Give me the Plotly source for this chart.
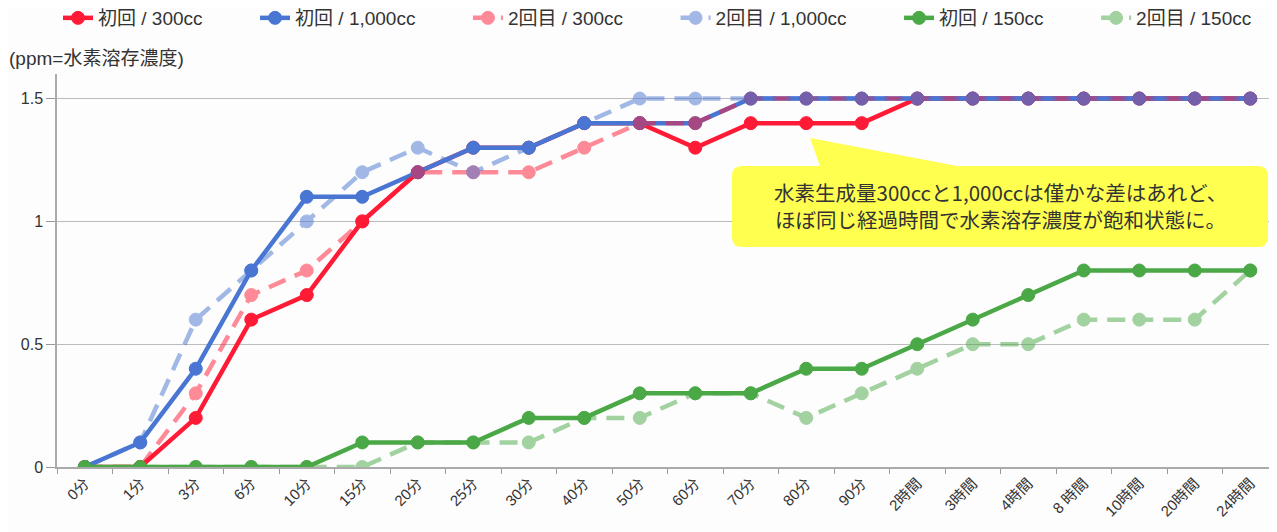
import plotly.graph_objects as go

categories = ["0分", "1分", "3分", "6分", "10分", "15分", "20分", "25分", "30分", "40分", "50分",
              "60分", "70分", "80分", "90分", "2時間", "3時間", "4時間", "8 時間", "10時間", "20時間", "24時間"]

first_300 = [0, 0, 0.2, 0.6, 0.7, 1.0, 1.2, 1.3, 1.3, 1.4, 1.4, 1.3, 1.4, 1.4, 1.4, 1.5, 1.5, 1.5, 1.5, 1.5, 1.5, 1.5]
first_1000 = [0, 0.1, 0.4, 0.8, 1.1, 1.1, 1.2, 1.3, 1.3, 1.4, 1.4, 1.4, 1.5, 1.5, 1.5, 1.5, 1.5, 1.5, 1.5, 1.5, 1.5, 1.5]
second_300 = [0, 0, 0.3, 0.7, 0.8, 1.0, 1.2, 1.2, 1.2, 1.3, 1.4, 1.4, 1.5, 1.5, 1.5, 1.5, 1.5, 1.5, 1.5, 1.5, 1.5, 1.5]
second_1000 = [0, 0.1, 0.6, 0.8, 1.0, 1.2, 1.3, 1.2, 1.3, 1.4, 1.5, 1.5, 1.5, 1.5, 1.5, 1.5, 1.5, 1.5, 1.5, 1.5, 1.5, 1.5]
first_150 = [0, 0, 0, 0, 0, 0.1, 0.1, 0.1, 0.2, 0.2, 0.3, 0.3, 0.3, 0.4, 0.4, 0.5, 0.6, 0.7, 0.8, 0.8, 0.8, 0.8]
second_150 = [0, 0, 0, 0, 0, 0, 0.1, 0.1, 0.1, 0.2, 0.2, 0.3, 0.3, 0.2, 0.3, 0.4, 0.5, 0.5, 0.6, 0.6, 0.6, 0.8]

y_ticks = [0, 0.5, 1, 1.5]
y_tick_text = ["0", "0.5", "1", "1.5"]

RED = "rgb(255,26,54)"
BLUE = "rgb(72,118,210)"
GREEN = "rgb(74,168,70)"

# page body has an 8px margin; positions below are screen pixels
OFF = 8
W, H = 1277, 532
ML, MR, MT, MB = 57 - OFF, 7, 74 - OFF, 73
PW, PH = W - ML - MR, H - MT - MB


def fx(x):
    return (x - OFF - ML) / PW


def fy(y):
    return (H - MB - (y - OFF)) / PH


PAD = "\u00a0" * 9

series = [
    ("初回 / 300cc", first_300, RED, "solid", 1.0),
    ("初回 / 1,000cc", first_1000, BLUE, "solid", 1.0),
    ("2回目 / 300cc", second_300, RED, "18px,10px", 0.5),
    ("2回目 / 1,000cc", second_1000, BLUE, "18px,10px", 0.5),
    ("初回 / 150cc", first_150, GREEN, "solid", 1.0),
    ("2回目 / 150cc", second_150, GREEN, "18px,10px", 0.5),
]

fig = go.Figure()
for i, (name, vals, col, dash, op) in enumerate(series):
    fig.add_trace(go.Scatter(
        x=categories, y=vals, name=name + (PAD if i < len(series) - 1 else ""),
        mode="lines+markers",
        line=dict(color=col, width=4.5, dash=dash),
        marker=dict(color=col, size=13, line=dict(color=col, width=1)),
        opacity=op,
    ))

# callout bubble
r = 10
x0, x1, y0, y1 = 732, 1268, 166, 247
path = (
    f"M {fx(x0 + r)},{fy(y0)} L {fx(820)},{fy(y0)} L {fx(810)},{fy(138)} L {fx(957)},{fy(y0)} "
    f"L {fx(x1 - r)},{fy(y0)} Q {fx(x1)},{fy(y0)} {fx(x1)},{fy(y0 + r)} "
    f"L {fx(x1)},{fy(y1 - r)} Q {fx(x1)},{fy(y1)} {fx(x1 - r)},{fy(y1)} "
    f"L {fx(x0 + r)},{fy(y1)} Q {fx(x0)},{fy(y1)} {fx(x0)},{fy(y1 - r)} "
    f"L {fx(x0)},{fy(y0 + r)} Q {fx(x0)},{fy(y0)} {fx(x0 + r)},{fy(y0)} Z"
)
fig.add_shape(type="path", xref="paper", yref="paper", path=path,
              fillcolor="#FFFF50", line=dict(width=0), layer="above")

fig.add_annotation(xref="paper", yref="paper", x=fx((x0 + x1) / 2), y=fy(205),
                   text="水素生成量300ccと1,000ccは僅かな差はあれど、<br>ほぼ同じ経過時間で水素溶存濃度が飽和状態に。",
                   showarrow=False, align="center", xanchor="center", yanchor="middle",
                   font=dict(family="Noto Sans CJK JP", size=20.5, color="#333333"))

fig.add_annotation(xref="paper", yref="paper", x=fx(7), y=fy(58),
                   text="(ppm=水素溶存濃度)", showarrow=False, xanchor="left", yanchor="middle",
                   font=dict(size=19, color="#333333"))

fig.update_layout(
    width=W, height=H,
    margin=dict(l=ML, r=MR, t=MT, b=MB, pad=0, autoexpand=False),
    paper_bgcolor="#fdfdfd", plot_bgcolor="#fdfdfd",
    font=dict(family="Liberation Sans, Noto Sans CJK JP", color="#333333"),
    showlegend=True,
    legend=dict(orientation="h", x=fx(58), xanchor="left", y=fy(18), yanchor="middle",
                font=dict(size=19, color="#333333"), bgcolor="rgba(0,0,0,0)"),
    xaxis=dict(type="category", range=[-0.5, len(categories) - 0.5], tickangle=-45,
               tickfont=dict(size=15, color="#333333"), ticks="outside", tickson="boundaries",
               ticklen=5, tickcolor="#999999", showline=True, linecolor="#aaaaaa", linewidth=1.5,
               showgrid=False, zeroline=False, automargin=False),
    yaxis=dict(range=[0, 1.6], tickvals=y_ticks, ticktext=y_tick_text,
               tickfont=dict(size=16, color="#333333"), ticks="outside", ticklen=9,
               tickcolor="#999999", showline=True, linecolor="#aaaaaa", linewidth=1.5,
               showgrid=True, gridcolor="#bbbbbb", gridwidth=1, zeroline=False, automargin=False),
)

fig.write_html("out.html")
